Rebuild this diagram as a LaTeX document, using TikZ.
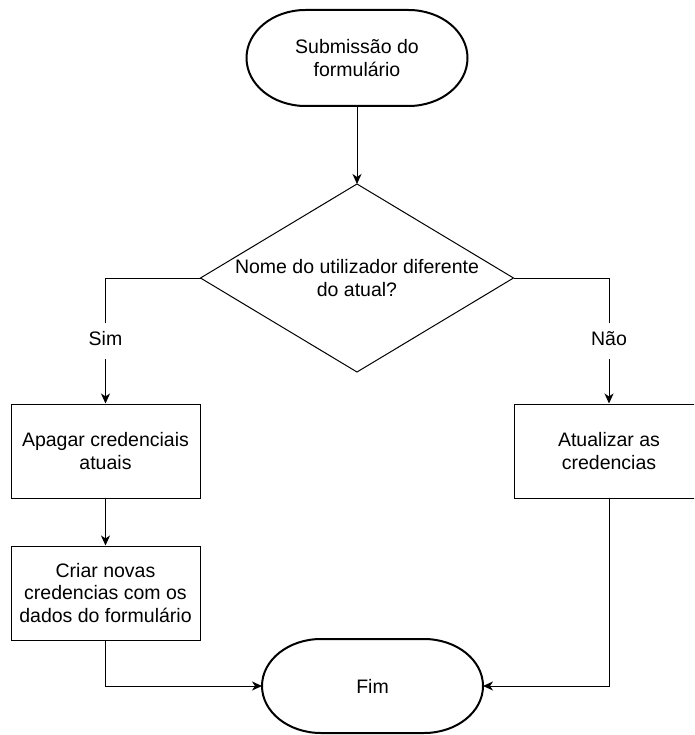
\documentclass[tikz,border=0pt]{standalone}
\usepackage{fontspec}
\setmainfont{Liberation Sans}
\usetikzlibrary{arrows.meta,shapes.geometric,calc}
\newcommand{\termshape}[3]{%
  \draw[line width=2pt,black] ($(#1.north west)+(#2,0)$) -- ($(#1.north east)+(-#2,0)$)
    arc[start angle=90,end angle=-90,x radius=#2,y radius=#3]
    -- ($(#1.south west)+(#2,0)$)
    arc[start angle=270,end angle=90,x radius=#2,y radius=#3] -- cycle;}
\begin{document}
\begin{tikzpicture}[x=1pt,y=1pt,
  every node/.style={font=\fontsize{19.5}{22.5}\selectfont, align=center, text=black},
  box/.style={draw, line width=1pt, minimum width=189pt, minimum height=94pt, inner sep=0pt},
  term/.style={minimum width=221pt, minimum height=96pt, inner sep=0pt, outer sep=0pt},
  arr/.style={line width=1pt, -{Stealth[length=10pt,width=9pt,inset=3pt]}},
  lbl/.style={fill=white, inner xsep=2pt, inner ysep=0pt, text height=14pt, text depth=4pt, minimum height=36pt}
]
\clip (0,0) rectangle (694,-735);
\fill[white] (0,0) rectangle (694,-735);

\node[term] (start) at (357,-58) {Submissão do\\formulário};
\termshape{start}{59}{48}

\node[diamond, draw, line width=1pt, minimum width=313pt, minimum height=188pt, inner sep=0pt, outer sep=0pt] (dec) at (357,-278) {};
\node (dectext) at (357,-278) {Nome do utilizador diferente\\do atual?};

\node[box] (apagar) at (105.5,-451) {Apagar credenciais\\atuais};
\node[box] (atual) at (609,-451) {Atualizar as\\credencias};
\node[box] (criar) at (105.5,-593) {Criar novas\\credencias com os\\dados do formulário};

\node[term, minimum height=94pt] (fim) at (372.5,-686) {Fim};
\termshape{fim}{59}{47}

\draw[arr] (start.south) -- (dec.north);
\draw[arr] (dec.west) -| node[lbl, pos=0.75] {Sim} (apagar.north);
\draw[arr] (dec.east) -| node[lbl, pos=0.75] {Não} (atual.north);
\draw[arr] (apagar.south) -- (criar.north);
\draw[arr] (criar.south) |- (fim.west);
\draw[arr] (atual.south) |- (fim.east);
\end{tikzpicture}
\end{document}
